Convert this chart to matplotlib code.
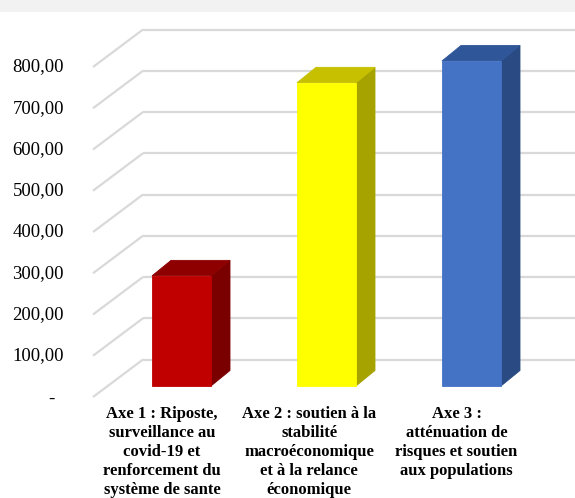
import numpy as np
import matplotlib
matplotlib.use('Agg')
import matplotlib.pyplot as plt
from matplotlib.patches import Polygon, Rectangle

# Budget by axis
categories = [
    "Axe 1 : Riposte,\nsurveillance au\ncovid-19 et\nrenforcement du\nsystème de sante",
    "Axe 2 : soutien à la\nstabilité\nmacroéconomique\net à la relance\néconomique",
    "Axe 3 :\natténuation de\nrisques et soutien\naux populations",
]
values = [267, 735, 788]
tick_values = np.arange(0, 801, 100)
tick_labels = ['-', '100,00', '200,00', '300,00', '400,00', '500,00', '600,00', '700,00', '800,00']

front_colors = ['#C00000', '#FFFF00', '#4472C4']
top_colors = ['#8E0000', '#C6C000', '#30569A']
side_colors = ['#7A0000', '#A6A300', '#294A82']

plt.rcParams['font.family'] = ['Liberation Serif', 'DejaVu Serif']

W, H = 575, 498
fig = plt.figure(figsize=(W / 100, H / 100), dpi=100)
ax = fig.add_axes([0, 0, 1, 1])

# pixels per value unit on the vertical axis
px = 330 / 800
base = 101  # pixels from bottom of figure for value 0 on the front plane
ax.set_xlim(0, W)
ax.set_ylim(-base / px, (H - base) / px)
ax.axis('off')

# grey band at the top
ax.axhspan((H - 12 - base) / px, (H - base) / px, color='#F2F2F2', lw=0, zorder=0)

# side wall (diagonals) and back wall (horizontals)
wall_front, wall_back = 93, 143
wall_dy = 37.5 / px
grid_kw = dict(color='#D9D9D9', lw=1.6, solid_capstyle='butt', zorder=1)
for v in tick_values:
    ax.plot([wall_front, wall_back], [v, v + wall_dy], **grid_kw)
    ax.plot([wall_back, W], [v + wall_dy, v + wall_dy], **grid_kw)

for v, lab in zip(tick_values, tick_labels):
    if v:
        ax.text(64, v, lab, ha='right', va='center', fontsize=13.5)
    else:
        ax.text(54.5, v - 2 / px, lab, ha='right', va='center', fontsize=13.5)

# 3D columns
centers = 181.5 + 145 * np.arange(len(values))
half_w = 29.5
face_y = 11 / px
depth_x, depth_y = 19, 15.5 / px
for cx, v, fc, tc, sc in zip(centers, values, front_colors, top_colors, side_colors):
    x0, x1 = cx - half_w, cx + half_w
    y0, y1 = face_y, face_y + v
    ax.add_patch(Polygon([(x1, y0), (x1 + depth_x, y0 + depth_y),
                          (x1 + depth_x, y1 + depth_y), (x1, y1)],
                         closed=True, fc=sc, ec=sc, lw=0.6, zorder=3))
    ax.add_patch(Polygon([(x0, y1), (x1, y1), (x1 + depth_x, y1 + depth_y),
                          (x0 + depth_x, y1 + depth_y)],
                         closed=True, fc=tc, ec=tc, lw=0.6, zorder=3))
    ax.add_patch(Rectangle((x0, y0), 2 * half_w, v, fc=fc, ec=fc, lw=0.6, zorder=4))

label_x = 162 + 147.25 * np.arange(len(categories))
for lx, lab in zip(label_x, categories):
    ax.text(lx, -22, lab, ha='center', va='top', fontsize=12,
            fontweight='bold', linespacing=1.25)

fig.savefig('out.png', dpi=100)
